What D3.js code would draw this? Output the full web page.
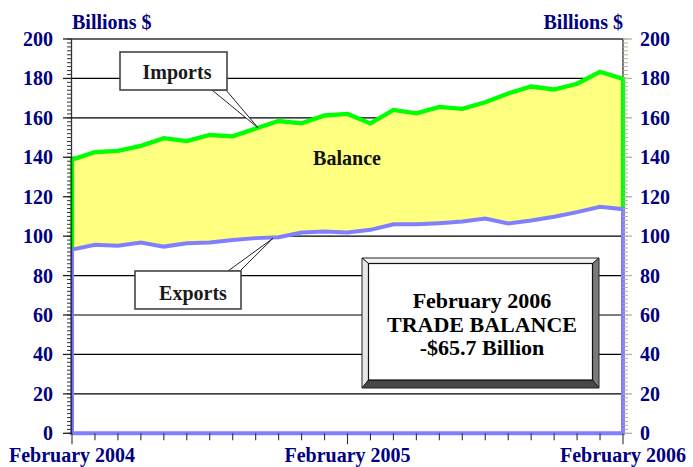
<!DOCTYPE html>
<html>
<head>
<meta charset="utf-8">
<script src="https://cdn.jsdelivr.net/npm/d3@7"></script>
<style>
  html, body { margin: 0; padding: 0; background: #fff; }
  svg { display: block; }
</style>
</head>
<body>
<svg id="chart" width="693" height="467"></svg>
<script>
// ---- data ----
const months = ["Feb 2004","Mar 2004","Apr 2004","May 2004","Jun 2004","Jul 2004","Aug 2004","Sep 2004","Oct 2004","Nov 2004","Dec 2004","Jan 2005",
                "Feb 2005","Mar 2005","Apr 2005","May 2005","Jun 2005","Jul 2005","Aug 2005","Sep 2005","Oct 2005","Nov 2005","Dec 2005","Jan 2006","Feb 2006"];
const imports = [138.8, 142.6, 143.3, 145.8, 149.7, 148.2, 151.3, 150.6, 154.6, 158.4, 157.2, 161.2,
                 162.0, 157.2, 164.0, 162.3, 165.6, 164.6, 167.9, 172.4, 175.9, 174.4, 177.3, 183.4, 179.8];
const exports = [93.2, 95.6, 95.1, 96.8, 94.7, 96.4, 96.8, 98.1, 99.0, 99.5, 101.8, 102.3,
                 101.8, 103.2, 106.0, 106.0, 106.6, 107.4, 108.9, 106.4, 107.9, 109.8, 112.2, 114.9, 113.7];
const xTickLabels = ["February 2004", "February 2005", "February 2006"];
const xTickMonths = ["Feb 2004", "Feb 2005", "Feb 2006"];
const yTicks = [0, 20, 40, 60, 80, 100, 120, 140, 160, 180, 200];
const axisTitle = "Billions $";
const boxLines = ["February 2006", "TRADE BALANCE", "-$65.7 Billion"];

// ---- layout ----
const FONT = "'Times New Roman', Times, 'Liberation Serif', Tinos, 'DejaVu Serif', 'Noto Serif', 'Noto Serif CJK SC', serif";
const L = 72, R = 623, T = 39, B = 433.3;
const svg = d3.select("#chart");
const x = d3.scalePoint().domain(months).range([L, R]);
const y = d3.scaleLinear().domain([0, 200]).range([B, T]);
const navy = "#000080";

function txt(sel) {
  return sel.style("font-family", FONT).attr("font-weight", "bold");
}

// gridlines
svg.append("g").selectAll("line").data(yTicks.filter(d => d > 0 && d < 200)).join("line")
  .attr("x1", L).attr("x2", R).attr("y1", d => y(d)).attr("y2", d => y(d))
  .attr("stroke", "#000").attr("stroke-width", 1.2);

// balance band
const rows = months.map((m, i) => ({ m, imp: imports[i], exp: exports[i] }));
svg.append("path").datum(rows)
  .attr("d", d3.area().x(d => x(d.m)).y0(d => y(d.exp)).y1(d => y(d.imp)))
  .attr("fill", "#ffff80");

// top border / right border
svg.append("line").attr("x1", L).attr("x2", R).attr("y1", T).attr("y2", T).attr("stroke", "#333").attr("stroke-width", 1.3);
svg.append("line").attr("x1", R).attr("x2", R).attr("y1", T).attr("y2", B).attr("stroke", "#333").attr("stroke-width", 1.3);

// imports outline (area edge)
const first = rows[0], last = rows[rows.length - 1];
const impPts = [[x(first.m), y(first.exp)]].concat(rows.map(d => [x(d.m), y(d.imp)])).concat([[x(last.m), y(last.exp)]]);
svg.append("path").attr("d", d3.line()(impPts))
  .attr("fill", "none").attr("stroke", "#00ff00").attr("stroke-width", 4.3).attr("stroke-linejoin", "miter");

// exports outline (area edge down to zero)
const expPts = [[x(first.m), y(0)]].concat(rows.map(d => [x(d.m), y(d.exp)])).concat([[x(last.m), y(0)]]);
svg.append("path").attr("d", d3.line()(expPts) + "Z")
  .attr("fill", "none").attr("stroke", "#8080ff").attr("stroke-width", 4).attr("stroke-linejoin", "miter");

// left axis
const minorTicks = d3.range(0, 201, 2);
const gl = svg.append("g");
gl.append("line").attr("x1", L - 0.5).attr("x2", L - 0.5).attr("y1", T).attr("y2", B).attr("stroke", "#333").attr("stroke-width", 1.3);
gl.selectAll(".mn").data(minorTicks).join("line")
  .attr("x1", L - 5).attr("x2", L).attr("y1", d => y(d)).attr("y2", d => y(d))
  .attr("stroke", "#333").attr("stroke-width", 1);
gl.selectAll(".mj").data(yTicks).join("line")
  .attr("x1", L - 9).attr("x2", L).attr("y1", d => y(d)).attr("y2", d => y(d))
  .attr("stroke", "#222").attr("stroke-width", 1.3);
txt(gl.selectAll("text").data(yTicks).join("text"))
  .attr("x", 53).attr("y", d => y(d)).attr("dy", "0.35em").attr("text-anchor", "end")
  .attr("fill", navy).attr("font-size", 20).text(d => d);

// right axis
const gr = svg.append("g");
gr.selectAll(".mn").data(minorTicks).join("line")
  .attr("x1", R).attr("x2", R + 5).attr("y1", d => y(d)).attr("y2", d => y(d))
  .attr("stroke", "#b4b09a").attr("stroke-width", 1);
gr.selectAll(".mj").data(yTicks).join("line")
  .attr("x1", R).attr("x2", R + 9).attr("y1", d => y(d)).attr("y2", d => y(d))
  .attr("stroke", "#b4b09a").attr("stroke-width", 1.3);
txt(gr.selectAll("text").data(yTicks).join("text"))
  .attr("x", 640).attr("y", d => y(d)).attr("dy", "0.35em").attr("text-anchor", "start")
  .attr("fill", navy).attr("font-size", 20).text(d => d);

// axis titles
txt(svg.append("text")).attr("x", L).attr("y", 29).attr("fill", navy).attr("font-size", 20).text(axisTitle);
txt(svg.append("text")).attr("x", R).attr("y", 29).attr("text-anchor", "end").attr("fill", navy).attr("font-size", 20).text(axisTitle);

// bottom axis ticks
const gb = svg.append("g");
gb.selectAll("line").data(months).join("line")
  .attr("x1", d => x(d)).attr("x2", d => x(d)).attr("y1", B)
  .attr("y2", d => xTickMonths.includes(d) ? B + 11 : B + 7)
  .attr("stroke", "#333").attr("stroke-width", 1.1);
txt(gb.selectAll("text").data(xTickMonths).join("text"))
  .attr("x", d => x(d)).attr("y", 462).attr("text-anchor", "middle")
  .attr("fill", navy).attr("font-size", 20).text((d, i) => xTickLabels[i]);

// Balance label
txt(svg.append("text")).attr("x", 347).attr("y", 165).attr("text-anchor", "middle")
  .attr("fill", "#111").attr("font-size", 20).text("Balance");

// callouts
function callout(bx, by, bw, bh, label, tx, ty, w1, w2, wy, tipX, tipY) {
  const g = svg.append("g");
  g.append("path").attr("d", `M${w1},${wy}L${tipX},${tipY}L${w2},${wy}Z`)
    .attr("fill", "#fff").attr("stroke", "#222").attr("stroke-width", 1);
  g.append("rect").attr("x", bx).attr("y", by).attr("width", bw).attr("height", bh)
    .attr("fill", "#fff").attr("stroke", "#444").attr("stroke-width", 1.6);
  txt(g.append("text")).attr("x", tx).attr("y", ty).attr("text-anchor", "middle")
    .attr("fill", "#1a1a1a").attr("font-size", 20).text(label);
}
// tips located on the series lines
const impTipX = x(months[8]) + 0.1 * x.step();
const impTipY = y(imports[8] + 0.1 * (imports[9] - imports[8]));
callout(120, 52, 107, 38, "Imports", 177, 79, 212, 226, 90, impTipX, impTipY);
const expTipX = x(months[8]) + 0.75 * x.step();
const expTipY = y(exports[8] + 0.75 * (exports[9] - exports[8])) + 1;
callout(135, 271, 106, 38, "Exports", 193, 300, 228, 240, 271, expTipX, expTipY);

// big beveled box
const ox0 = 362, oy0 = 258, ox1 = 599, oy1 = 388;
const ix0 = 368.5, iy0 = 263.5, ix1 = 592.5, iy1 = 380;
const gbx = svg.append("g");
gbx.append("path").attr("d", `M${ox0},${oy0}L${ox1},${oy0}L${ix1},${iy0}L${ix0},${iy0}Z`).attr("fill", "#f2f2f2").attr("stroke", "#222").attr("stroke-width", 1);
gbx.append("path").attr("d", `M${ox0},${oy0}L${ix0},${iy0}L${ix0},${iy1}L${ox0},${oy1}Z`).attr("fill", "#e6e6e6").attr("stroke", "#222").attr("stroke-width", 1);
gbx.append("path").attr("d", `M${ox1},${oy0}L${ox1},${oy1}L${ix1},${iy1}L${ix1},${iy0}Z`).attr("fill", "#7a7a7a").attr("stroke", "#222").attr("stroke-width", 1);
gbx.append("path").attr("d", `M${ox0},${oy1}L${ix0},${iy1}L${ix1},${iy1}L${ox1},${oy1}Z`).attr("fill", "#474747").attr("stroke", "#222").attr("stroke-width", 1);
gbx.append("rect").attr("x", ix0).attr("y", iy0).attr("width", ix1 - ix0).attr("height", iy1 - iy0)
  .attr("fill", "#fff").attr("stroke", "#111").attr("stroke-width", 1.2);
txt(gbx.selectAll("text").data(boxLines).join("text"))
  .attr("x", 482).attr("y", (d, i) => 308 + i * 23.5).attr("text-anchor", "middle")
  .attr("fill", "#000").attr("font-size", 22).text(d => d);
</script>
</body>
</html>
